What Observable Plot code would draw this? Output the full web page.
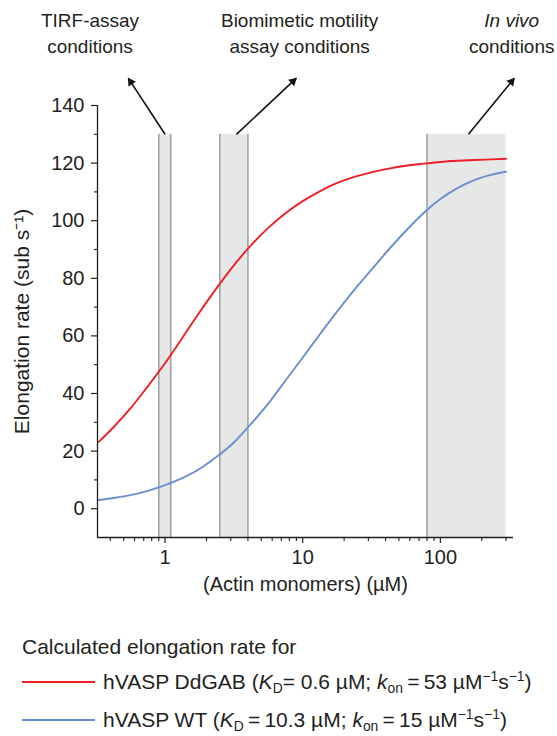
<!DOCTYPE html>
<html>
<head>
<meta charset="utf-8">
<script src="https://cdn.jsdelivr.net/npm/d3@7"></script>
<script src="https://cdn.jsdelivr.net/npm/@observablehq/plot@0.6"></script>
<style>
  body { margin: 0; background: #fff; font-family: "Liberation Sans", Arial, sans-serif; color: #231f20; }
  #chart svg { display: block; }
  #legend { width: 557px; font-size: 21px; line-height: 24px; }
  #legend .title { margin: 28px 0 0 22px; height: 24px; }
  #legend .item { display: flex; align-items: center; height: 24px; white-space: nowrap; }
  #legend .item1 { margin-top: 11px; }
  #legend .item2 { margin-top: 14px; }
  #legend .swatch { display: inline-block; width: 73px; height: 2px; margin: 0 8px 0 22px; flex: none; }
  #legend sub, #legend sup { font-size: 0.66em; line-height: 0; position: relative; vertical-align: baseline; }
  #legend sub { top: 0.3em; }
  #legend sup { top: -0.55em; }
</style>
</head>
<body>
<div id="chart"></div>
<div id="legend"></div>
<script>
// ---- data ----
const concentration = [0.33, 0.42, 0.56, 0.75, 1, 1.33, 1.78, 2.37, 3.16, 4.22, 5.62, 7.5, 10, 13.3, 17.8, 23.7, 31.6, 42.2, 56.2, 75, 100, 133, 178, 237, 300];
const ddgabRate = [23.2, 28.2, 34.8, 42.5, 50.5, 59.2, 68.2, 76.6, 84.5, 91.5, 97.5, 102.6, 106.8, 110.2, 113.1, 115.2, 116.8, 118.1, 119.1, 119.8, 120.4, 120.8, 121.1, 121.3, 121.5];
const wtRate = [3.0, 3.7, 4.7, 6.2, 8.2, 10.6, 13.8, 18.0, 23.0, 29.5, 36.5, 44.5, 52.5, 60.5, 68.5, 76.0, 83.0, 90.0, 96.5, 102.5, 107.5, 111.3, 114.2, 116.0, 117.0];

const seriesNames = ["hVASP DdGAB", "hVASP WT"];
const seriesParams = [
  "(<i>K</i><sub>D</sub>= 0.6 \u00b5M; <i>k</i><sub>on</sub>\u2009=\u200953 \u00b5M<sup>\u22121</sup>s<sup>\u22121</sup>)",
  "(<i>K</i><sub>D</sub>\u2009=\u200910.3 \u00b5M; <i>k</i><sub>on</sub>\u2009=\u200915 \u00b5M<sup>\u22121</sup>s<sup>\u22121</sup>)"
];
const seriesColors = ["#ee1f26", "#6a8fd0"];

const conditionNames = [["TIRF-assay", "conditions"], ["Biomimetic motility", "assay conditions"], ["In vivo", "conditions"]];
const bandStart = [0.9, 2.5, 80];
const bandEnd = [1.1, 4, 300];
const bandTop = 130;
// arrow tail (x at band top) and head (x, y) in data units
const arrowTailX = [1.0, 3.3, 160];
const arrowHeadX = [0.54, 9.0, 345];
const arrowHeadY = 149.5;
// label anchors in data units
const labelX = [0.285, 9.5, 330];
const labelLine1Y = 169.3;
const labelLine2Y = 160.3;

const xDomain = [0.323, 340];
const yDomain = [-10, 140];
const xMajorTicks = [1, 10, 100];
const xMinorTicks = [0.4, 0.5, 0.6, 0.7, 0.8, 0.9, 2, 3, 4, 5, 6, 7, 8, 9, 20, 30, 40, 50, 60, 70, 80, 90, 200, 300];
const yMajorTicks = [0, 20, 40, 60, 80, 100, 120, 140];
const yMinorTicks = [10, 30, 50, 70, 90, 110, 130];

const xLabel = "(Actin monomers) (\u00b5M)";
const yLabel = "Elongation rate (sub s\u207b\u00b9)";
const legendTitle = "Calculated elongation rate for";

// ---- build tables ----
const curves = [];
concentration.forEach((c, i) => {
  curves.push({series: seriesNames[0], conc: c, rate: ddgabRate[i]});
  curves.push({series: seriesNames[1], conc: c, rate: wtRate[i]});
});
const bands = bandStart.map((s, i) => ({x1: s, x2: bandEnd[i]}));
const bandEdges = [];
bands.forEach((b, i) => {
  bandEdges.push(b.x1);
  if (i < 2) bandEdges.push(b.x2);
});
const arrows = arrowTailX.map((t, i) => ({x1: t, y1: bandTop, x2: arrowHeadX[i], y2: arrowHeadY}));
const labels1 = conditionNames.map((n, i) => ({x: labelX[i], text: n[0], italic: i === 2}));
const labels2 = conditionNames.map((n, i) => ({x: labelX[i], text: n[1]}));

const ink = "#231f20";
const fs = 19;

const baseOptions = {
  width: 557,
  height: 607,
  marginLeft: 97,
  marginRight: 44,
  marginTop: 105,
  marginBottom: 70,
  style: {fontFamily: '"Liberation Sans", Arial, sans-serif', fontSize: fs + "px", color: ink, background: "#fff"},
  x: {type: "log", domain: xDomain, label: null},
  y: {domain: yDomain, label: null},
  color: {domain: seriesNames, range: seriesColors}
};

// first pass: obtain the scales, to orient the filled arrow heads
const probe = Plot.plot({...baseOptions, marks: [Plot.ruleY([0])]});
const sx = probe.scale("x"), sy = probe.scale("y");
const heads = arrows.map(a => {
  const px1 = sx.apply(a.x1), py1 = sy.apply(a.y1);
  const px2 = sx.apply(a.x2), py2 = sy.apply(a.y2);
  const dx = px2 - px1, dy = py2 - py1, len = Math.hypot(dx, dy);
  const back = 4.6; // centroid of triangle behind the tip
  return {
    x: sx.invert(px2 - dx / len * back),
    y: sy.invert(py2 - dy / len * back),
    angle: Math.atan2(dx, -dy) * 180 / Math.PI
  };
});

const chart = Plot.plot({
  ...baseOptions,
  marks: [
    Plot.rect(bands, {x1: "x1", x2: "x2", y1: yDomain[0], y2: bandTop, fill: "#e6e7e7"}),
    Plot.ruleX(bandEdges, {y1: yDomain[0], y2: bandTop, stroke: "#a2a3a5", strokeWidth: 1.6}),
    Plot.line(curves, {x: "conc", y: "rate", z: "series", stroke: "series", strokeWidth: 1.9, curve: "monotone-x"}),
    // axis lines
    Plot.ruleY([yDomain[0]], {stroke: ink, strokeWidth: 1.3}),
    Plot.ruleX([xDomain[0]], {y1: yDomain[0], y2: yDomain[1], stroke: ink, strokeWidth: 1.3}),
    // axes
    Plot.axisX({ticks: xMajorTicks, tickSize: 6, tickPadding: 6, tickFormat: d => String(d), label: null, fontSize: 20, stroke: ink, strokeWidth: 1.2}),
    Plot.axisX({ticks: xMinorTicks, tickSize: 4, fill: "none", label: null, stroke: ink, strokeWidth: 1.1}),
    Plot.axisY({ticks: yMajorTicks, tickSize: 6, tickPadding: 7, label: null, fontSize: 20, stroke: ink, strokeWidth: 1.2}),
    Plot.axisY({ticks: yMinorTicks, tickSize: 3, fill: "none", label: null, stroke: ink, strokeWidth: 1.1}),
    // axis titles
    Plot.text([xLabel], {frameAnchor: "bottom", dy: 53, fontSize: 20, fill: ink}),
    Plot.text([yLabel], {frameAnchor: "left", textAnchor: "middle", dx: -75, rotate: -90, fontSize: 21, fill: ink}),
    // arrows and condition labels
    Plot.link(arrows, {x1: "x1", y1: "y1", x2: "x2", y2: "y2", stroke: "#111", strokeWidth: 1.6}),
    Plot.dot(heads, {x: "x", y: "y", rotate: "angle", symbol: "triangle", r: 3.3, fill: "#111", stroke: "none"}),
    Plot.text(labels1.filter(d => !d.italic), {x: "x", y: labelLine1Y, text: "text", fontSize: fs, fill: ink}),
    Plot.text(labels1.filter(d => d.italic), {x: "x", y: labelLine1Y, text: "text", fontSize: fs, fill: ink, fontStyle: "italic"}),
    Plot.text(labels2, {x: "x", y: labelLine2Y, text: "text", fontSize: fs, fill: ink})
  ]
});
document.getElementById("chart").appendChild(chart);

// legend
const legend = document.getElementById("legend");
let html = `<div class="title">${legendTitle}</div>`;
seriesNames.forEach((n, i) => {
  html += `<div class="item item${i + 1}"><span class="swatch" style="background:${seriesColors[i]}"></span><span>${n} ${seriesParams[i]}</span></div>`;
});
legend.innerHTML = html;
</script>
</body>
</html>
